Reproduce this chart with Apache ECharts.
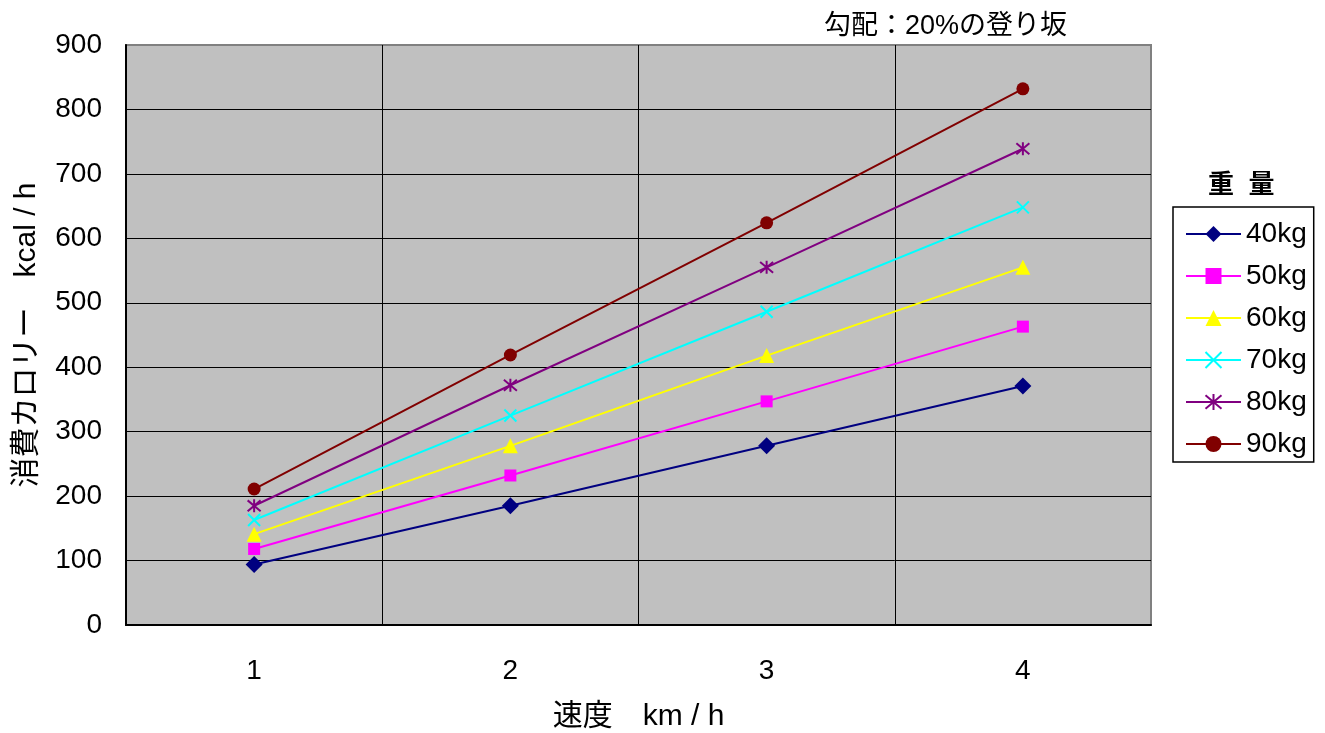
<!DOCTYPE html>
<html>
<head>
<meta charset="utf-8">
<script src="https://cdn.jsdelivr.net/npm/echarts@6/dist/echarts.min.js"></script>
<style>
  html, body { margin: 0; padding: 0; background: #fff; }
  #chart { width: 1325px; height: 733px; }
</style>
</head>
<body>
<div id="chart"></div>
<script>
// Calories burned walking up a 20% slope, by body weight and speed
const speeds = ['1', '2', '3', '4'];
const weights = ['40kg', '50kg', '60kg', '70kg', '80kg', '90kg'];
const kcal40 = [94, 185, 278, 371];
const kcal50 = [118, 232, 347, 463];
const kcal60 = [141, 278, 418, 555];
const kcal70 = [163, 325, 486, 648];
const kcal80 = [185, 372, 555, 739];
const kcal90 = [211, 419, 624, 832];

const FONT = "'Liberation Sans', 'Noto Sans CJK JP', sans-serif";
const CROSS = 'path://M0,0L10,10M10,0L0,10';
const STAR = 'path://M0,0L10,10M10,0L0,10M5,-1L5,11';

function line(name, data, color, symbol, size, stroked) {
  return {
    name: name,
    type: 'line',
    data: data,
    symbol: symbol,
    symbolSize: size,
    showAllSymbol: true,
    lineStyle: { color: color, width: 2 },
    itemStyle: stroked
      ? { color: 'none', borderColor: color, borderWidth: 2 }
      : { color: color, borderWidth: 0 },
    emphasis: { disabled: true },
    animation: false
  };
}

const chart = echarts.init(document.getElementById('chart'));
chart.setOption({
  backgroundColor: '#fff',
  textStyle: { fontFamily: FONT },
  title: [
    {
      text: '勾配：20%の登り坂',
      left: 819, top: 8,
      textStyle: { fontFamily: FONT, fontSize: 27, fontWeight: 'normal', color: '#000' }
    },
    {
      text: '重  量',
      left: 1203, top: 168,
      textStyle: { fontFamily: FONT, fontSize: 26, fontWeight: 'bold', color: '#000' }
    }
  ],
  legend: {
    data: weights,
    orient: 'vertical',
    left: 1173, top: 207,
    padding: [13, 7, 4, 12],
    itemWidth: 55,
    itemHeight: 20,
    itemGap: 14,
    borderColor: '#000',
    borderWidth: 1.5,
    backgroundColor: '#fff',
    textStyle: { fontFamily: FONT, fontSize: 28, lineHeight: 28, color: '#000' }
  },
  grid: {
    left: 126, right: 174, top: 45, bottom: 108,
    outerBoundsMode: 'none',
    containLabel: false,
    show: true,
    backgroundColor: '#c0c0c0',
    borderColor: '#808080',
    borderWidth: 2
  },
  xAxis: {
    type: 'category',
    data: speeds,
    boundaryGap: true,
    name: '速度　km / h',
    nameLocation: 'middle',
    nameGap: 77,
    nameTextStyle: { fontFamily: FONT, fontSize: 30, color: '#000' },
    axisLine: { lineStyle: { color: '#000', width: 2 } },
    axisTick: { show: false },
    axisLabel: { fontFamily: FONT, fontSize: 28, color: '#000', margin: 32 },
    splitLine: { show: true, showMinLine: false, showMaxLine: false, lineStyle: { color: '#000', width: 1 } }
  },
  yAxis: {
    type: 'value',
    min: 0, max: 900, interval: 100,
    name: '消費カロリー　kcal / h',
    nameLocation: 'middle',
    nameGap: 84,
    nameTextStyle: { fontFamily: FONT, fontSize: 30, color: '#000' },
    axisLine: { show: true, lineStyle: { color: '#000', width: 2 } },
    axisTick: { show: false },
    axisLabel: { fontFamily: FONT, fontSize: 28, color: '#000', margin: 24 },
    splitLine: { show: true, showMinLine: false, showMaxLine: false, lineStyle: { color: '#000', width: 1 } }
  },
  series: [
    line('40kg', kcal40, '#000080', 'diamond', 17, false),
    line('50kg', kcal50, '#ff00ff', 'rect', 12, false),
    line('60kg', kcal60, '#ffff00', 'triangle', 15, false),
    line('70kg', kcal70, '#00ffff', CROSS, 12, true),
    line('80kg', kcal80, '#800080', STAR, 13, true),
    line('90kg', kcal90, '#800000', 'circle', 13, false)
  ]
});
</script>
</body>
</html>
